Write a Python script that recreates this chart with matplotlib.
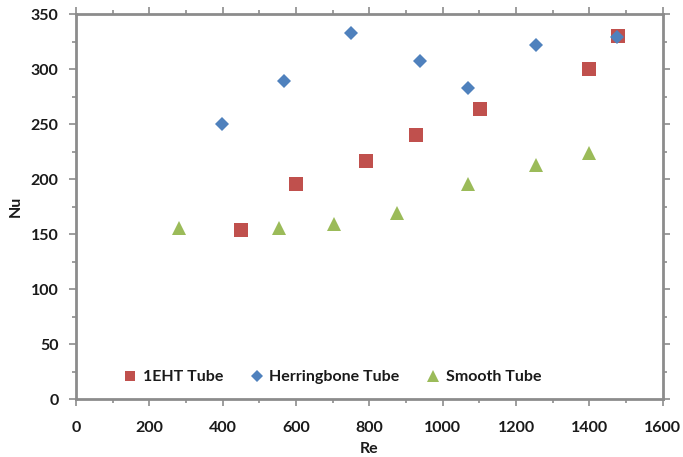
import matplotlib
matplotlib.use("Agg")
import matplotlib.pyplot as plt
from matplotlib.ticker import MultipleLocator

plt.rcParams['font.family'] = ['Lato', 'DejaVu Sans']

# Data
eht_re = [451, 601, 791, 928, 1102, 1398, 1477]
eht_nu = [154, 196, 217, 240, 264, 300, 330]
herr_re = [397, 567, 749, 939, 1068, 1254, 1476]
herr_nu = [250, 289, 333, 308, 283, 322, 329]
smooth_re = [282, 554, 704, 874, 1068, 1255, 1399]
smooth_nu = [156, 156, 159, 169, 196, 213, 224]

fig = plt.figure(figsize=(6.83, 4.57), dpi=100)
ax = fig.add_axes([0.1113, 0.1263, 0.8590, 0.8424])

ax.plot(eht_re, eht_nu, 's', color='#C0504D', markersize=9.5, markeredgewidth=0,
        label='1EHT Tube', zorder=3)
ax.plot(herr_re, herr_nu, 'D', color='#4F81BD', markersize=7.6, markeredgewidth=0,
        label='Herringbone Tube', zorder=4)
ax.plot(smooth_re, smooth_nu, '^', color='#9BBB59', markersize=10, markeredgewidth=0,
        label='Smooth Tube', zorder=3)

ax.set_xlim(0, 1600)
ax.set_ylim(0, 350)
ax.xaxis.set_major_locator(MultipleLocator(200))
ax.xaxis.set_minor_locator(MultipleLocator(100))
ax.yaxis.set_major_locator(MultipleLocator(50))
ax.yaxis.set_minor_locator(MultipleLocator(25))

spine_color = '#8C8C8C'
for s in ax.spines.values():
    s.set_color(spine_color)
    s.set_linewidth(2)

ax.tick_params(which='both', color=spine_color, width=1.2, direction='out',
               top=True, right=True)
ax.tick_params(which='major', length=5, labelsize=11.5)
ax.tick_params(which='minor', length=3)
ax.tick_params(axis='x', which='major', pad=10.5)
ax.tick_params(axis='y', which='major', pad=7.5)
ax.tick_params(axis='both', which='both', labeltop=False, labelright=False)
for lab in ax.get_xticklabels() + ax.get_yticklabels():
    lab.set_fontweight('bold')
    lab.set_color('#1a1a1a')

ax.set_xlabel('Re', fontsize=11.5, fontweight='bold', color='#1a1a1a', labelpad=5.5)
ax.set_ylabel('Nu', fontsize=11.5, fontweight='bold', color='#1a1a1a', labelpad=6)

leg = ax.legend(loc='lower left', bbox_to_anchor=(0.058, 0.002), ncol=3, frameon=False,
                markerscale=0.8, handlelength=0.7, handletextpad=0.45, columnspacing=1.75,
                prop={'weight': 'bold', 'size': 11.5})
for t in leg.get_texts():
    t.set_color('#1a1a1a')

fig.savefig('out.png', dpi=100)
